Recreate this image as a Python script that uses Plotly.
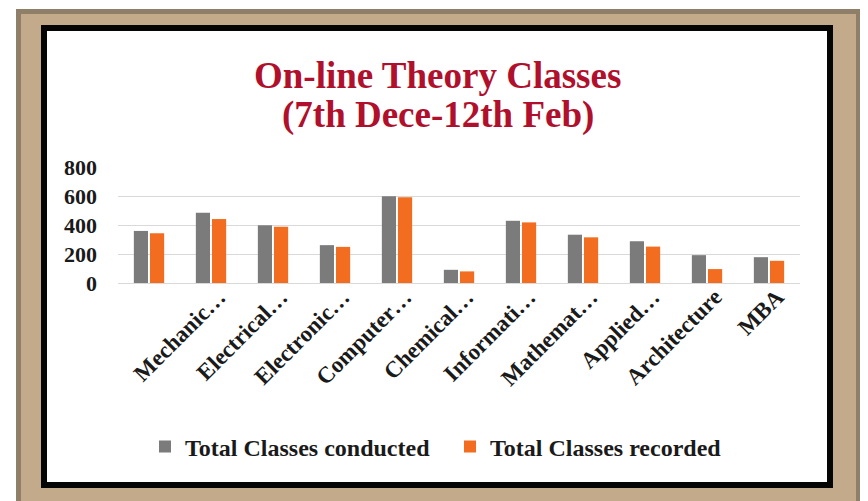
import plotly.graph_objects as go

# ---- data ----
categories = ["", "Mechanic…", "Electrical…", "Electronic…", "Computer…", "Chemical…",
              "Informati…", "Mathemat…", "Applied…", "Architecture", "MBA"]
conducted = [359, 484, 398, 261, 599, 91, 429, 333, 288, 192, 178]
recorded = [343, 441, 388, 249, 592, 80, 418, 315, 251, 96, 153]
y_ticks = [0, 200, 400, 600, 800]

# page body has an 8px margin; work in screen coordinates and shift
OFF = 8
W, H = 868 - OFF, 501 - OFF
# plot area in screen coords: x 118..800, y 167..283
SX0, SX1, SY0, SY1 = 118, 800, 167, 283
L, T = SX0 - OFF, SY0 - OFF
R = W - (SX1 - OFF)
B = H - (SY1 - OFF)
PW, PH = SX1 - SX0, SY1 - SY0

def px(x):
    return (x - SX0) / PW

def py(y):
    return (SY1 - y) / PH

FONT = "Liberation Serif"
GRAY = "#7b7b7b"
ORANGE = "#f26d1f"

x_idx = list(range(len(categories)))

fig = go.Figure()
fig.add_trace(go.Bar(x=x_idx, y=conducted, name="Total Classes conducted",
                     marker=dict(color=GRAY, line=dict(width=0))))
fig.add_trace(go.Bar(x=x_idx, y=recorded, name="Total Classes recorded",
                     marker=dict(color=ORANGE, line=dict(width=0))))

shapes = []
def rect(x0, y0, x1, y1, color):
    shapes.append(dict(type="rect", xref="paper", yref="paper", layer="below",
                       x0=px(x0), x1=px(x1), y0=py(y0), y1=py(y1),
                       fillcolor=color, line=dict(width=0)))

rect(16, 9, 861, 520, "#8f7f68")
rect(21, 14, 856, 520, "#c2aa8a")
rect(41, 25, 833, 488, "#050505")
rect(47, 31, 827, 482, "#ffffff")

annotations = [
    dict(text="On-line Theory Classes", xref="paper", yref="paper",
         x=px(437.5), y=py(75), xanchor="center", yanchor="middle", showarrow=False,
         font=dict(family=FONT, size=37, color="#b0102c", weight="bold")),
    dict(text="(7th Dece-12th Feb)", xref="paper", yref="paper",
         x=px(437.5), y=py(115), xanchor="center", yanchor="middle", showarrow=False,
         font=dict(family=FONT, size=37, color="#b0102c", weight="bold")),
]

fig.update_layout(
    width=W, height=H,
    margin=dict(l=L, r=R, t=T, b=B, autoexpand=False),
    paper_bgcolor="#ffffff",
    plot_bgcolor="rgba(0,0,0,0)",
    barmode="group", bargap=0.48, bargroupgap=0.12,
    shapes=shapes, annotations=annotations,
    showlegend=True,
    legend=dict(orientation="h", x=px(450), y=py(447), xanchor="center", yanchor="middle",
                font=dict(family=FONT, size=24, color="#1a1a1a", weight="bold"),
                bgcolor="rgba(0,0,0,0)", itemwidth=30, traceorder="normal",
                entrywidth=260),
    xaxis=dict(tickmode="array", tickvals=x_idx, ticktext=categories,
               range=[-0.5, len(categories) - 0.5],
               tickangle=-45, automargin=False, showgrid=False, showline=False,
               zeroline=False, ticks="", ticklabelshift=8, ticklabelstandoff=-5,
               tickfont=dict(family=FONT, size=23, color="#1a1a1a", weight="bold")),
    yaxis=dict(range=[0, 800], tickvals=y_ticks, automargin=False,
               showgrid=True, gridcolor="#d9d9d9", gridwidth=1,
               zeroline=True, zerolinecolor="#d9d9d9", zerolinewidth=1,
               showline=False, ticks="", ticklabelstandoff=20,
               tickfont=dict(family=FONT, size=22, color="#1a1a1a", weight="bold")),
)

fig.write_html("out.html")
